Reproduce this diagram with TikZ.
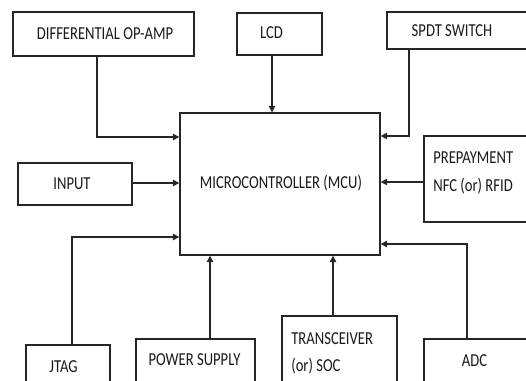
\documentclass[tikz,border=0pt]{standalone}
\usepackage{fontspec}
\setmainfont{Carlito}[FakeStretch=0.8]
\usetikzlibrary{positioning,arrows.meta,calc}

\begin{document}
\begin{tikzpicture}[
  x=0.02cm, y=-0.02cm,
  font=\fontsize{10.4}{12}\selectfont,
  >={Triangle[length=3.6pt,width=3.6pt]},
  blk/.style={draw=black!85, line width=0.8pt, rectangle, inner sep=0pt},
  lbl/.style={inner sep=0pt, text=black!90},
  lbll/.style={lbl, anchor=west},
  arr/.style={->, line width=0.8pt, black!85},
]
\clip (0,0) rectangle (526,381);

% ---------- blocks ----------
\node[blk, minimum width=181*0.02cm, minimum height=44*0.02cm] (diff) at (103.5,34) {};
\node[blk, minimum width=85*0.02cm, minimum height=42*0.02cm] (lcd) at (279.5,34) {};
\node[blk, minimum width=153*0.02cm, minimum height=37*0.02cm] (spdt) at (463.5,30.5) {};
\node[blk, minimum width=114*0.02cm, minimum height=42*0.02cm] (input) at (75,184) {};
\node[blk, minimum width=200*0.02cm, minimum height=142*0.02cm] (mcu) at (280,184) {};
\node[blk, minimum width=116*0.02cm, minimum height=86*0.02cm] (prepay) at (482,179) {};
\node[blk, minimum width=84*0.02cm, minimum height=55*0.02cm] (jtag) at (68,372.5) {};
\node[blk, minimum width=119*0.02cm, minimum height=61*0.02cm] (power) at (195.5,369.5) {};
\node[blk, minimum width=115*0.02cm, minimum height=84*0.02cm] (trans) at (339.5,358) {};
\node[blk, minimum width=116*0.02cm, minimum height=61*0.02cm] (adc) at (482,369.5) {};

% ---------- labels ----------
\node[lbl] (diffT) at (105,34) {DIFFERENTIAL OP-AMP};
\node[lbl] (lcdT) at (271.5,33) {LCD};
\node[lbl] (spdtT) at (452,31) {SPDT SWITCH};
\node[lbl] (inputT) at (72,184) {INPUT};
\node[lbl] (mcuT) at (281,183) {MICROCONTROLLER (MCU)};
\node[lbll] (prepayT) at (433,158) {PREPAYMENT};
\node[lbll] (prepayU) at (433,186) {NFC (or) RFID};
\node[lbl] (jtagT) at (63.5,367) {JTAG};
\node[lbl] (powerT) at (194.5,360) {POWER SUPPLY};
\node[lbll] (transT) at (291,339) {TRANSCEIVER};
\node[lbll] (transU) at (291,366) {(or) SOC};
\node[lbl] (adcT) at (474.5,361) {ADC};

% ---------- entry points on the MCU ----------
\coordinate (inDiff) at (mcu.west |- 0,137);
\coordinate (inJtag) at (mcu.west |- 0,237);
\coordinate (inSpdt) at (mcu.east |- 0,136);
\coordinate (inAdc) at (mcu.east |- 0,244);

% ---------- connectors ----------
\draw[arr] (diff.south -| 97,0) |- (inDiff);
\draw[arr] (input.east |- 0,183) -- (mcu.west |- 0,183);
\draw[arr] (lcd.south -| 272,0) -- (mcu.north -| 272,0);
\draw[arr] (spdt.south -| 409,0) |- (inSpdt);
\draw[arr] (prepay.west |- 0,182) -- (mcu.east |- 0,182);
\draw[arr] (jtag.north -| 72,0) |- (inJtag);
\draw[arr] (power.north -| 210,0) -- (mcu.south -| 210,0);
\draw[arr] (trans.north -| 333,0) -- (mcu.south -| 333,0);
\draw[arr] (adc.north -| 467,0) |- (inAdc);

\end{tikzpicture}
\end{document}
